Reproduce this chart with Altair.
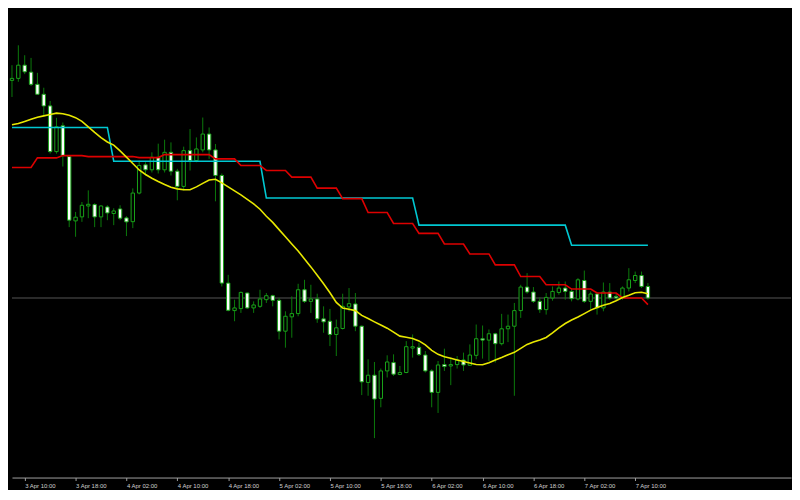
import altair as alt
import pandas as pd

# USDJPY H1, 3 Apr 08:00 -> 7 Apr 12:00 (2023)
opens = [134.207, 134.227, 134.360, 134.290, 134.167, 134.067, 133.950, 133.490, 133.750, 133.440,
         132.793, 132.833, 132.943, 132.957, 132.833, 132.933, 132.867, 132.913, 132.823, 132.785,
         133.073, 133.357, 133.307, 133.433, 133.307, 133.483, 133.293, 133.140, 133.500, 133.400,
         133.507, 133.667, 133.507, 133.250, 132.167, 131.890, 131.910, 132.067, 131.917, 131.933,
         132.000, 132.040, 131.993, 131.683, 131.827, 131.860, 132.100, 131.983, 132.007, 131.807,
         131.783, 131.650, 131.710, 131.927, 131.957, 131.733, 131.167, 131.240, 131.007, 131.283,
         131.367, 131.247, 131.267, 131.513, 131.520, 131.443, 131.283, 131.067, 131.347, 131.333,
         131.347, 131.393, 131.340, 131.440, 131.607, 131.593, 131.657, 131.557, 131.707, 131.733,
         131.890, 132.127, 132.077, 131.983, 131.900, 132.017, 132.073, 132.117, 132.083, 132.007,
         132.193, 131.983, 132.057, 131.917, 132.077, 132.033, 132.017, 132.117, 132.193, 132.243,
         132.133]
highs = [134.360, 134.560, 134.460, 134.433, 134.283, 134.133, 134.000, 133.830, 133.783, 133.450,
         132.883, 132.983, 133.100, 132.970, 132.950, 132.950, 132.920, 132.950, 132.840, 133.120,
         133.400, 133.383, 133.483, 133.570, 133.610, 133.583, 133.317, 133.540, 133.717, 133.633,
         133.833, 133.733, 133.567, 133.270, 132.250, 132.000, 132.083, 132.073, 131.983, 132.100,
         132.067, 132.050, 132.017, 131.883, 132.033, 132.160, 132.200, 132.150, 132.060, 131.933,
         131.907, 131.800, 132.060, 132.117, 132.067, 131.740, 131.400, 131.373, 131.307, 131.440,
         131.450, 131.333, 131.583, 131.650, 131.567, 131.483, 131.300, 131.383, 131.507, 131.417,
         131.433, 131.467, 131.550, 131.750, 131.740, 131.700, 131.667, 131.857, 131.850, 131.967,
         132.150, 132.267, 132.127, 132.023, 132.067, 132.133, 132.183, 132.183, 132.117, 132.217,
         132.293, 132.083, 132.077, 132.173, 132.167, 132.067, 132.133, 132.317, 132.283, 132.283,
         132.167]
lows = [134.040, 134.193, 134.270, 134.150, 134.065, 133.850, 133.470, 133.470, 133.340, 132.730,
        132.633, 132.783, 132.820, 132.730, 132.730, 132.800, 132.750, 132.800, 132.640, 132.720,
        133.060, 133.250, 133.280, 133.270, 133.280, 133.250, 133.000, 133.100, 133.300, 133.383,
        133.483, 133.417, 132.990, 132.133, 131.883, 131.783, 131.867, 131.907, 131.867, 131.917,
        131.967, 131.933, 131.600, 131.517, 131.617, 131.833, 131.967, 131.867, 131.767, 131.667,
        131.533, 131.433, 131.700, 131.883, 131.683, 131.040, 131.033, 130.607, 130.917, 131.217,
        131.233, 131.240, 131.260, 131.417, 131.433, 131.267, 130.917, 130.860, 131.283, 131.140,
        131.307, 131.283, 131.333, 131.400, 131.407, 131.383, 131.367, 131.540, 131.573, 131.033,
        131.817, 132.060, 131.967, 131.867, 131.850, 131.990, 132.050, 132.000, 131.983, 131.993,
        131.967, 131.900, 131.850, 131.883, 132.000, 132.000, 132.000, 132.083, 132.167, 132.117,
        132.000]
closes = [134.227, 134.360, 134.293, 134.167, 134.067, 133.950, 133.490, 133.740, 133.450, 132.800,
          132.830, 132.950, 132.960, 132.833, 132.943, 132.873, 132.893, 132.820, 132.783, 133.073,
          133.350, 133.307, 133.433, 133.307, 133.483, 133.293, 133.140, 133.500, 133.400, 133.517,
          133.667, 133.507, 133.250, 132.167, 131.893, 131.917, 132.073, 131.917, 131.947, 132.007,
          132.040, 131.993, 131.683, 131.833, 131.860, 132.100, 131.983, 132.007, 131.807, 131.777,
          131.650, 131.717, 131.933, 131.960, 131.733, 131.173, 131.240, 131.000, 131.283, 131.373,
          131.250, 131.267, 131.527, 131.527, 131.447, 131.283, 131.067, 131.343, 131.327, 131.347,
          131.393, 131.343, 131.443, 131.607, 131.593, 131.657, 131.557, 131.707, 131.733, 131.890,
          132.127, 132.077, 131.983, 131.900, 132.023, 132.083, 132.117, 132.083, 132.010, 132.200,
          131.983, 132.057, 131.917, 132.077, 132.017, 132.017, 132.117, 132.200, 132.243, 132.133,
          132.017]
ma_yellow = [133.760, 133.772, 133.793, 133.815, 133.836, 133.850, 133.864, 133.877, 133.872, 133.855,
             133.832, 133.795, 133.740, 133.683, 133.630, 133.587, 133.555, 133.497, 133.434, 133.370,
             133.305, 133.260, 133.222, 133.190, 133.160, 133.132, 133.115, 133.107, 133.107, 133.135,
             133.170, 133.204, 133.212, 133.175, 133.135, 133.095, 133.054, 133.010, 132.965, 132.910,
             132.840, 132.778, 132.705, 132.633, 132.560, 132.490, 132.410, 132.330, 132.245, 132.160,
             132.070, 131.972, 131.915, 131.903, 131.890, 131.842, 131.810, 131.777, 131.745, 131.713,
             131.673, 131.633, 131.622, 131.610, 131.585, 131.545, 131.490, 131.450, 131.425, 131.410,
             131.393, 131.377, 131.362, 131.347, 131.345, 131.365, 131.393, 131.418, 131.445, 131.470,
             131.510, 131.550, 131.575, 131.595, 131.620, 131.665, 131.717, 131.760, 131.795, 131.825,
             131.860, 131.895, 131.922, 131.945, 131.962, 131.990, 132.022, 132.045, 132.070, 132.075,
             132.060]
ma_red = [133.330, 133.330, 133.330, 133.330, 133.427, 133.427, 133.427, 133.427, 133.450, 133.450,
          133.450, 133.450, 133.440, 133.440, 133.440, 133.440, 133.440, 133.440, 133.440, 133.440,
          133.430, 133.430, 133.430, 133.430, 133.460, 133.460, 133.460, 133.460, 133.460, 133.460,
          133.460, 133.460, 133.417, 133.417, 133.417, 133.417, 133.350, 133.350, 133.350, 133.350,
          133.300, 133.300, 133.300, 133.300, 133.233, 133.233, 133.233, 133.233, 133.123, 133.123,
          133.123, 133.123, 133.017, 133.017, 133.017, 133.017, 132.877, 132.877, 132.877, 132.877,
          132.767, 132.767, 132.767, 132.767, 132.667, 132.667, 132.667, 132.667, 132.560, 132.560,
          132.560, 132.560, 132.460, 132.460, 132.460, 132.460, 132.350, 132.350, 132.350, 132.350,
          132.233, 132.233, 132.233, 132.233, 132.150, 132.150, 132.150, 132.150, 132.107, 132.107,
          132.107, 132.107, 132.067, 132.067, 132.067, 132.067, 132.017, 132.017, 132.017, 132.017,
          131.950]
level_cyan = [133.733, 133.733, 133.733, 133.733, 133.733, 133.733, 133.733, 133.733, 133.733, 133.733,
              133.733, 133.733, 133.733, 133.733, 133.733, 133.733, 133.393, 133.393, 133.393, 133.393,
              133.393, 133.393, 133.393, 133.393, 133.393, 133.393, 133.393, 133.393, 133.393, 133.393,
              133.393, 133.393, 133.393, 133.393, 133.393, 133.393, 133.393, 133.393, 133.393, 133.393,
              133.023, 133.023, 133.023, 133.023, 133.023, 133.023, 133.023, 133.023, 133.023, 133.023,
              133.023, 133.023, 133.023, 133.023, 133.023, 133.023, 133.023, 133.023, 133.023, 133.023,
              133.023, 133.023, 133.023, 133.023, 132.750, 132.750, 132.750, 132.750, 132.750, 132.750,
              132.750, 132.750, 132.750, 132.750, 132.750, 132.750, 132.750, 132.750, 132.750, 132.750,
              132.750, 132.750, 132.750, 132.750, 132.750, 132.750, 132.750, 132.750, 132.547, 132.547,
              132.547, 132.547, 132.547, 132.547, 132.547, 132.547, 132.547, 132.547, 132.547, 132.547,
              132.547]
tick_times = ["2023-04-03T10:00:00Z", "2023-04-03T18:00:00Z", "2023-04-04T02:00:00Z",
              "2023-04-04T10:00:00Z", "2023-04-04T18:00:00Z", "2023-04-05T02:00:00Z",
              "2023-04-05T10:00:00Z", "2023-04-05T18:00:00Z", "2023-04-06T02:00:00Z",
              "2023-04-06T10:00:00Z", "2023-04-06T18:00:00Z", "2023-04-07T02:00:00Z",
              "2023-04-07T10:00:00Z"]

n = len(opens)
times = pd.date_range("2023-04-03 08:00", periods=n, freq="h")
df = pd.DataFrame({
    "t": [t.strftime("%Y-%m-%dT%H:%M:%SZ") for t in times],
    "open": opens, "high": highs, "low": lows, "close": closes,
    "yellow": ma_yellow, "red": ma_red, "cyan": level_cyan,
})

def ms(s):
    return int(pd.Timestamp(s).value // 10**6)

x_scale = alt.Scale(type="utc", domain=[ms("2023-04-03T08:00:00Z"), ms("2023-04-08T10:30:00Z")],
                    padding=0)
y_scale = alt.Scale(domain=[130.21, 134.92], nice=False, zero=False, padding=0)
x_axis = alt.Axis(values=[ms(t) for t in tick_times],
                  labelExpr="utcFormat(datum.value, '%-d %b %H:%M')",
                  labelAlign="left", labelBaseline="top", labelColor="#d0d0d0",
                  labelFont="Liberation Sans", labelFontSize=6, labelPadding=2,
                  labelFlush=False, labelOverlap=False,
                  tickColor="#a0a0a0", tickSize=3, domainColor="#a0a0a0",
                  grid=False, title=None)
X = alt.X("t:T", scale=x_scale, axis=x_axis)

base = alt.Chart(df)
bid = alt.Chart(pd.DataFrame({"bid": [closes[-1]]})).mark_rule(
    color="#555555", strokeWidth=1.2).encode(y=alt.Y("bid:Q", scale=y_scale, axis=None))
wicks = base.mark_rule(color="#0b7a0b", strokeWidth=1).encode(
    x=X, y=alt.Y("low:Q", scale=y_scale, axis=None), y2="high:Q")
bodies = base.mark_bar(size=3.4, stroke="#19a319", strokeWidth=1).encode(
    x=X, y=alt.Y("open:Q", scale=y_scale, axis=None), y2="close:Q",
    fill=alt.condition("datum.close < datum.open", alt.value("#ffffff"), alt.value("#000000")))
red = base.mark_line(color="#dd0000", strokeWidth=1.6).encode(
    x=X, y=alt.Y("red:Q", scale=y_scale, axis=None))
cyan = base.mark_line(color="#00c8d2", strokeWidth=1.6).encode(
    x=X, y=alt.Y("cyan:Q", scale=y_scale, axis=None))
yellow = base.mark_line(color="#e8e800", strokeWidth=1.6).encode(
    x=X, y=alt.Y("yellow:Q", scale=y_scale, axis=None))

chart = alt.layer(bid, wicks, bodies, cyan, red, yellow).properties(
    width=784, height=471, padding=0
).configure(background="#000000").configure_view(stroke=None).configure_scale(
    continuousPadding=0)

chart.save("out.html", embed_options={"renderer": "svg", "actions": False})
